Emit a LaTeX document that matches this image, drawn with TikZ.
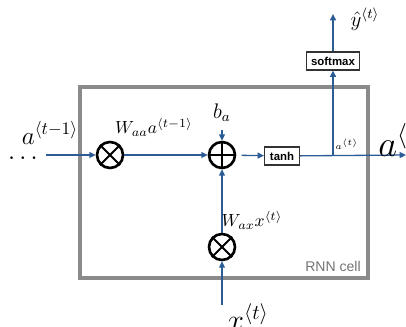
\documentclass[tikz,border=0pt]{standalone}
\usepackage{amsmath}
\usepackage{fontspec}
\setsansfont{Liberation Sans}
\usepackage{tikz}
\usetikzlibrary{
  arrows.meta,
  positioning,
  calc
}
\definecolor{flowblue}{RGB}{44,92,150}
\definecolor{cellgray}{RGB}{138,138,138}

\tikzset{
  flow/.style={draw=flowblue, line width=0.75pt, -{Triangle[length=3.6pt,width=3.4pt]}},
  opnode/.style={circle, draw=black, line width=1.5pt, minimum size=0.52cm, inner sep=0pt},
  actbox/.style={draw=black!80, line width=0.6pt, inner sep=0pt,
    font=\sffamily\bfseries\fontsize{6.5}{7}\selectfont},
  cellbox/.style={draw=cellgray, line width=1.8pt}
}

\begin{document}
\begin{tikzpicture}[
    x=0.02cm,
    y=-0.02cm
    ]

    \useasboundingbox (0,0) rectangle (406,327);

    % cell frame
    \draw[cellbox] (80,87) rectangle (368,278);
    \node[text=black!55, font=\sffamily\fontsize{8}{9}\selectfont] (cellname)
    at (333,266) {RNN cell};

    % operations
    \node[opnode] (mulA) at (110,155) {};
    \draw[line width=1.1pt] (mulA.45)--(mulA.225) (mulA.135)--(mulA.315);
    \node[opnode] (add) at (222,155) {};
    \draw[line width=1.1pt] (add.north)--(add.south) (add.east)--(add.west);
    \node[opnode] (mulX) at (222,247) {};
    \draw[line width=1.1pt] (mulX.45)--(mulX.225) (mulX.135)--(mulX.315);

    \node[actbox, minimum width=0.7cm, minimum height=0.36cm]
    (tanh) at (282,156) {tanh};
    \node[actbox, minimum width=1.06cm, minimum height=0.36cm]
    (soft) at (333,61) {softmax};

    % ends
    \node[inner sep=0pt] (dots) at (25,159) {\Large $\cdots$};
    \node (bias) at (222,113) {\large $b_a$};
    \coordinate (ain) at (46,155);
    \coordinate (xin) at (222,305);
    \coordinate (aout) at (406,155);
    \coordinate (split) at (333,155);
    \coordinate (yout) at (333,14);

    % connectors
    \draw[flow] (ain) -- (mulA);
    \draw[flow] (mulA) -- (add);
    \draw[flow, shorten <=1pt] (bias) -- (add);
    \draw[flow, shorten <=3pt] (add) -- (tanh);
    \draw[flow] (tanh) -- (aout);
    \draw[flow] (split) -- (soft);
    \draw[flow] (soft) -- (yout);
    \draw[flow] (mulX) -- (add);
    \draw[flow] (xin) -- (mulX);

    % labels
    \node[inner sep=0pt] (aprev) at (50,133) {\Large $a^{\langle t-1\rangle}$};
    \node (waa) at (154,127) {$W_{aa}a^{\langle t-1\rangle}$};
    \node (wax) at (252,220) {$W_{ax}x^{\langle t\rangle}$};
    \node (asmall) at (347,144) {\fontsize{5}{6}\selectfont $a^{\langle t\rangle}$};
    \node[anchor=west, inner sep=0pt] (anext) at (378,140) {\huge $a^{\langle t\rangle}$};
    \node (yhat) at (365,19) {\large $\hat{y}^{\langle t\rangle}$};
    \node (xcur) at (248,317) {\LARGE $x^{\langle t\rangle}$};

\end{tikzpicture}
\end{document}
